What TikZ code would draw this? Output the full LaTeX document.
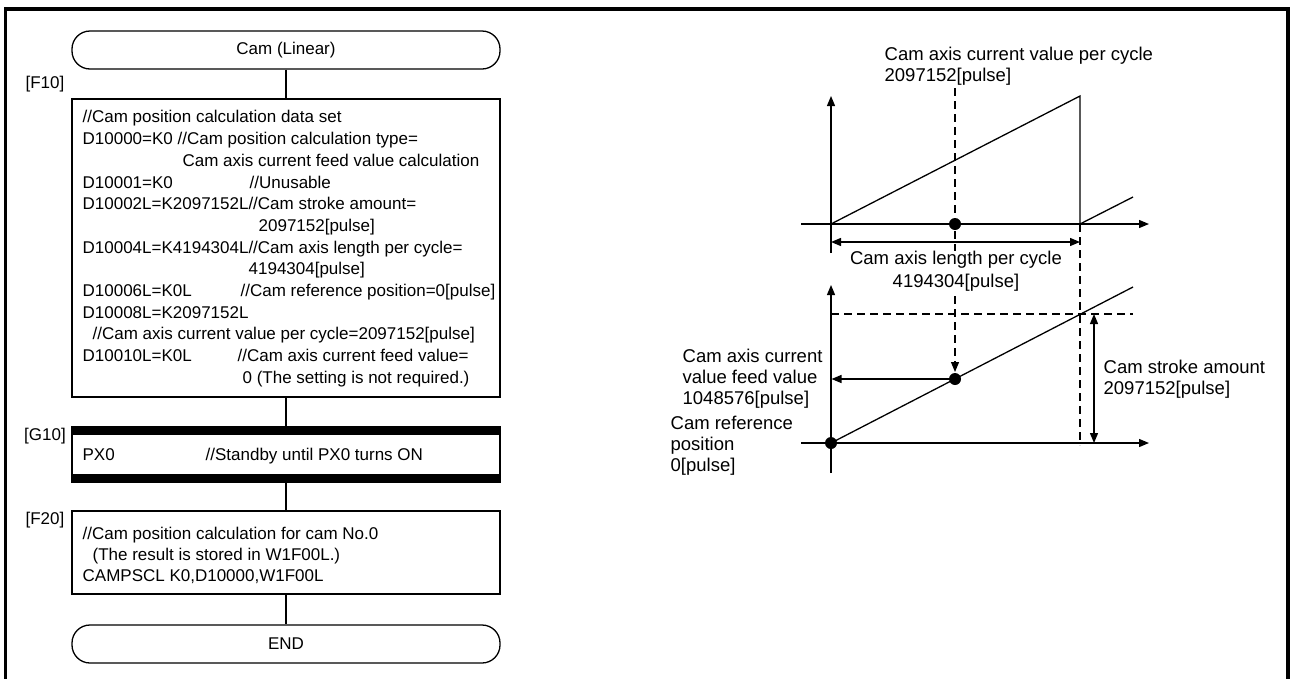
\documentclass[tikz,border=0pt]{standalone}
\usepackage{fontspec}
\setmainfont{Liberation Sans}
\usetikzlibrary{arrows.meta, positioning}

\newcommand{\flowfont}{\fontsize{17pt}{21.7pt}\selectfont}
\newcommand{\plotfont}{\fontsize{18.5pt}{21pt}\selectfont}

\begin{document}
\begin{tikzpicture}[x=1pt, y=-1pt, line width=1.3pt,
  >={Triangle[length=10pt,width=8pt]},
  termbox/.style={rectangle, rounded corners=18pt, draw, minimum width=428pt,
                  minimum height=38pt, font=\flowfont},
  stepbox/.style={rectangle, draw, minimum width=428pt, minimum height=#1},
  steplbl/.style={font=\flowfont, inner sep=0pt},
  steptxt/.style={anchor=north west, inner sep=0pt, align=left, font=\flowfont},
  plotlbl/.style={inner sep=0pt, font=\plotfont},
  dimline/.style={dash pattern=on 8pt off 5pt, line width=1.1pt}
]
\useasboundingbox (0,0) rectangle (1290,678);

% Frame
\draw[line width=3.5pt] (5.5,690) -- (5.5,9) -- (1288,9) -- (1288,690);

% Flowchart
\node[termbox] (start) at (286,50) {Cam (Linear)};

\node[stepbox=298pt] (f10) at (286,248) {};
\node[steplbl] at (45,84) {[F10]};
\node[steptxt] at (82,110) {//Cam position calculation data set\\
D10000=K0 //Cam position calculation type=\\
\hspace*{100pt}Cam axis current feed value calculation\\
\makebox[167pt][l]{D10001=K0}//Unusable\\
D10002L=K2097152L//Cam stroke amount=\\
\hspace*{176pt}2097152[pulse]\\
D10004L=K4194304L//Cam axis length per cycle=\\
\hspace*{166pt}4194304[pulse]\\
\makebox[158pt][l]{D10006L=K0L}//Cam reference position=0[pulse]\\
D10008L=K2097152L\\
\hspace*{10pt}//Cam axis current value per cycle=2097152[pulse]\\
\makebox[155pt][l]{D10010L=K0L}//Cam axis current feed value=\\
\hspace*{160pt}0 (The setting is not required.)};

\node[stepbox=55pt] (g10) at (286,454.5) {};
\fill (g10.north west) rectangle ([yshift=-9pt]g10.north east);
\fill (g10.south west) rectangle ([yshift=9pt]g10.south east);
\node[steplbl] at (45,436) {[G10]};
\node[steplbl, anchor=base west] at (82,460.5) {\makebox[123pt][l]{PX0}//Standby until PX0 turns ON};

\node[stepbox=83pt] (f20) at (286,552.5) {};
\node[steplbl] at (45,520) {[F20]};
\node[steptxt, font=\fontsize{17pt}{20.8pt}\selectfont] at (82,527) {//Cam position calculation for cam No.0\\
\hspace*{10pt}(The result is stored in W1F00L.)\\
CAMPSCL K0,D10000,W1F00L};

\node[termbox] (fin) at (286,644) {END};

\draw (start) -- (f10);
\draw (f10) -- (g10);
\draw (g10) -- (f20);
\draw (f20) -- (fin);

% Upper graph: cam axis current value per cycle
\coordinate (o1) at (831,224);
\coordinate (d1) at (955,224);
\draw[->] (831,253) -- (831,96);
\draw[->] (801,224) -- (1149,224);
\draw (o1) -- (1080,96) -- (1080,224) -- (1133,197);
\draw[<->] (831,242) -- (1080,242);
\node[plotlbl, anchor=west, align=left] (cyc) at (884,66.7) {Cam axis current value per cycle\\2097152[pulse]};

% Lower graph: cam axis current feed value
\coordinate (o2) at (831,443);
\coordinate (d2) at (955,379);
\coordinate (fv) at (831.5,379);
\draw[->] (831,473) -- (831,285);
\draw[->] (801,443) -- (1149,443);
\draw (o2) -- (1133,287);
\draw[dimline] (831,314) -- (1133,314);
\draw[dimline] (1080,224) -- (1080,445);
\draw[dimline, ->] (955,88) -- (955,372);
\node[plotlbl, align=center, fill=white, font=\fontsize{18.5pt}{23pt}\selectfont] (len) at (956,271.5) {Cam axis length per cycle\\4194304[pulse]};
\fill (d1) circle[radius=6pt];
\fill (o2) circle[radius=6pt];
\fill (d2) circle[radius=6pt];
\draw[->] (d2) -- (fv);
\draw[<->] (1094,314) -- (1094,443);
\node[plotlbl, anchor=west, align=left] (strk) at (1103,379) {Cam stroke amount\\2097152[pulse]};
\node[plotlbl, anchor=west, align=left] (feed) at (682,379) {Cam axis current\\value feed value\\1048576[pulse]};
\node[plotlbl, anchor=west, align=left] (ref) at (670,446) {Cam reference\\position\\0[pulse]};
\end{tikzpicture}
\end{document}
